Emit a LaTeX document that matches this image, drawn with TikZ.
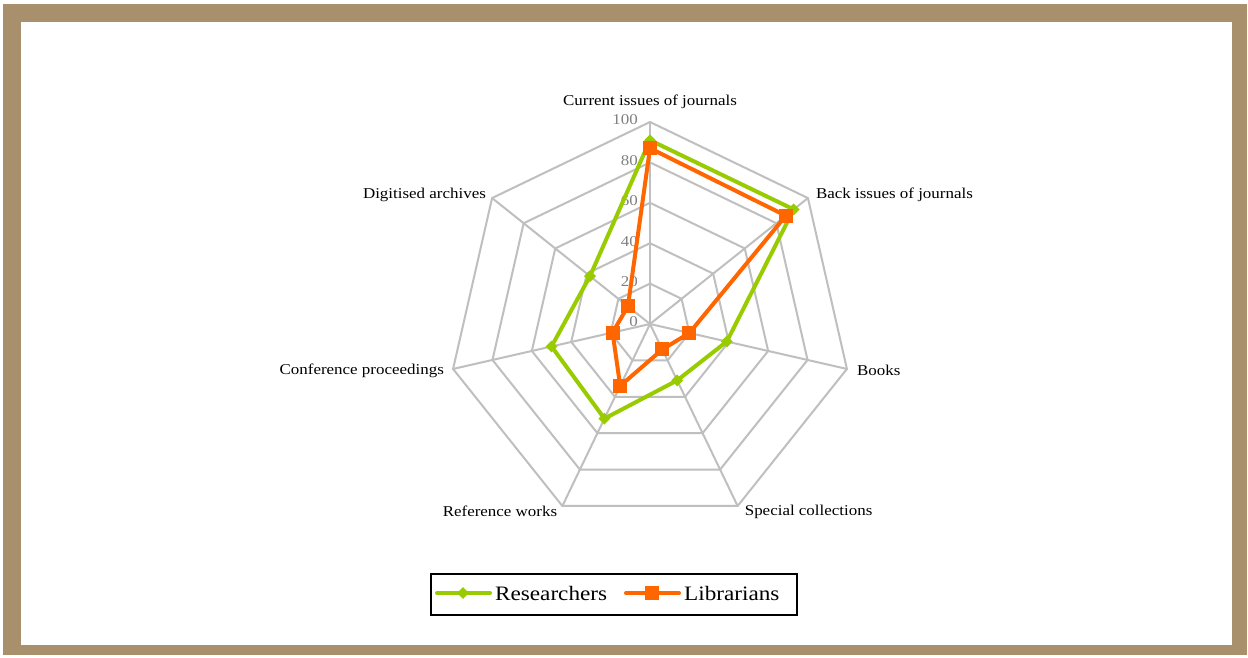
\documentclass[tikz,border=0pt]{standalone}
\usepackage{fontspec}
\setmainfont[FakeStretch=1.13]{Liberation Serif}
\usetikzlibrary{shapes.geometric,calc}
\definecolor{framebrown}{RGB}{168,144,108}
\definecolor{gridgray}{RGB}{191,191,191}
\definecolor{tickgray}{RGB}{128,128,128}
\definecolor{resgreen}{RGB}{153,204,0}
\definecolor{liborange}{RGB}{255,102,0}
\tikzset{
  gridline/.style={draw=gridgray, line width=2pt, line join=miter},
  axislabel/.style={font=\fontsize{15}{16}\selectfont, inner sep=1pt},
  ticklabel/.style={font=\fontsize{15}{16}\selectfont, text=tickgray, anchor=east, inner sep=0pt},
  resline/.style={draw=resgreen, line width=4pt, line join=round},
  libline/.style={draw=liborange, line width=4pt, line join=round},
  resmark/.style={shape=diamond, fill=resgreen, inner sep=0pt, minimum width=12pt, minimum height=12pt},
  libmark/.style={shape=rectangle, fill=liborange, inner sep=0pt, minimum size=14pt},
  legendtext/.style={font=\fontsize{20.5}{22}\selectfont, anchor=west, inner sep=0pt}
}
\begin{document}
\begin{tikzpicture}[x=1pt,y=1pt]
\useasboundingbox (0,0) rectangle (1248,657);
\fill[white] (0,0) rectangle (1248,657);
\fill[framebrown] (3,2) rectangle (1247,653);
\fill[white] (21,12) rectangle (1232,635);
\begin{scope}[shift={(650,333)}]
  % grid rings
  \foreach \k in {1,...,5}{
    \draw[gridline] (90:{40.4*\k})
      \foreach \i in {1,...,6}{ -- ({90-\i*360/7}:{40.4*\k}) } -- cycle;
  }
  % spokes
  \coordinate (C) at (0,0);
  \foreach \i in {0,...,6}{
    \coordinate (V\i) at ({90-\i*360/7}:202);
    \draw[gridline] (C) -- (V\i);
  }
  % tick labels
  \foreach \v [count=\k from 0] in {0,20,40,60,80,100}{
    \node[ticklabel] (t\k) at (-12,{40.4*\k+2}) {\v};
  }
  % axis labels
  \node[axislabel, anchor=south] (a0) at ($(V0)+(0,12)$) {Current issues of journals};
  \node[axislabel, anchor=west] (a1) at ($(V1)+(7,3)$) {Back issues of journals};
  \node[axislabel, anchor=west] (a2) at ($(V2)+(9,-1)$) {Books};
  \node[axislabel, anchor=west] (a3) at ($(V3)+(6,-6)$) {Special collections};
  \node[axislabel, anchor=east] (a4) at ($(V4)+(-4,-5)$) {Reference works};
  \node[axislabel, anchor=east] (a5) at ($(V5)+(-8,-2)$) {Conference proceedings};
  \node[axislabel, anchor=east] (a6) at ($(V6)+(-5,3)$) {Digitised archives};
  % data
  \foreach \v [count=\i from 0] in {91,91,39,31,52,50,38}{
    \coordinate (r\i) at ({90-\i*360/7}:{2.02*\v});
  }
  \foreach \v [count=\i from 0] in {87,86,20,14,34,19,14}{
    \coordinate (l\i) at ({90-\i*360/7}:{2.02*\v});
  }
  \draw[resline] (r0) -- (r1) -- (r2) -- (r3) -- (r4) -- (r5) -- (r6) -- cycle;
  \foreach \i in {0,...,6}{ \node[resmark] (rm\i) at (r\i) {}; }
  \draw[libline] (l0) -- (l1) -- (l2) -- (l3) -- (l4) -- (l5) -- (l6) -- cycle;
  \foreach \i in {0,...,6}{ \node[libmark] (lm\i) at (l\i) {}; }
\end{scope}
% legend
\draw[black, line width=1.5pt] (431,42) rectangle (797,83);
\coordinate (g1) at (437,64);
\coordinate (g2) at (490,64);
\draw[resline, line cap=round] (g1) -- (g2);
\node[resmark] (gm) at (463,64) {};
\node[legendtext] (gt) at (495,64) {Researchers};
\coordinate (o1) at (626,64);
\coordinate (o2) at (679,64);
\draw[libline, line cap=round] (o1) -- (o2);
\node[libmark] (om) at (652,64) {};
\node[legendtext] (ot) at (684,64) {Librarians};
\end{tikzpicture}
\end{document}
